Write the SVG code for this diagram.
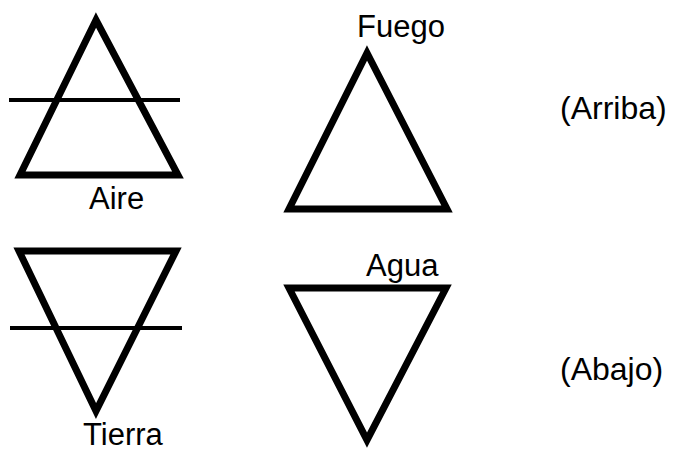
<svg xmlns="http://www.w3.org/2000/svg" width="674" height="450" viewBox="0 0 674 450">
<style>
.tri{fill:none;stroke:#000;stroke-width:7;stroke-linejoin:miter;stroke-miterlimit:10}
.bar{stroke:#000;stroke-width:4}
.lbl{font-family:"Liberation Sans",Arial,sans-serif;font-size:31px;fill:#000}
.side{font-size:32px}
</style>
<rect width="674" height="450" fill="#fff"/>
<g id="aire">
<polygon class="tri" points="96,20 20,175 178,175"/>
<line class="bar" x1="9" y1="100" x2="180" y2="100"/>
<text class="lbl" x="89" y="209">Aire</text>
</g>
<g id="fuego">
<polygon class="tri" points="367,53 289,209 447,209"/>
<text class="lbl" x="357" y="37">Fuego</text>
</g>
<g id="tierra">
<polygon class="tri" points="19,251 176,251 96,411"/>
<line class="bar" x1="10" y1="328" x2="182" y2="328"/>
<text class="lbl" x="83" y="445">Tierra</text>
</g>
<g id="agua">
<polygon class="tri" points="289,288 446,288 367,440"/>
<text class="lbl" x="366" y="276">Agua</text>
</g>
<g id="arriba">
<text class="lbl side" x="560" y="119">(Arriba)</text>
</g>
<g id="abajo">
<text class="lbl side" x="560" y="380">(Abajo)</text>
</g>
</svg>
